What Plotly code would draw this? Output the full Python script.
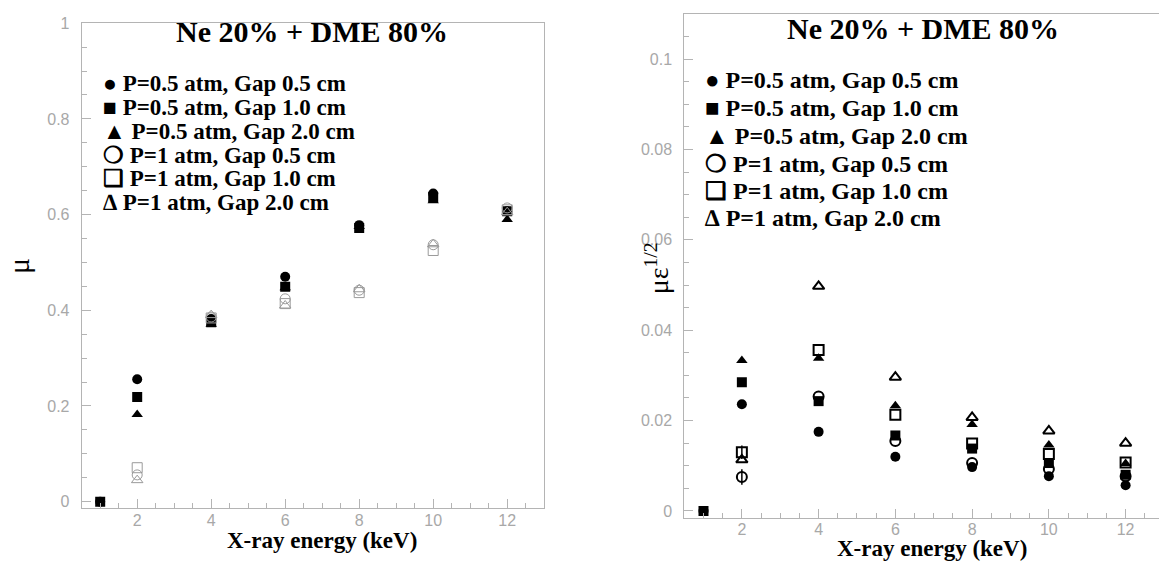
import plotly.graph_objects as go

W, H = 1159, 565

# ---------------- data ----------------
energy = [1, 2, 4, 6, 8, 10, 12]

# left panel: mu
mu_p05_g05 = [0.0, 0.256, 0.382, 0.470, 0.578, 0.644, 0.607]
mu_p05_g10 = [0.0, 0.219, 0.375, 0.449, 0.572, 0.637, 0.607]
mu_p05_g20 = [None, 0.182, 0.371, 0.447, 0.575, 0.629, 0.590]
mu_p1_g05 = [None, 0.056, 0.386, 0.424, 0.442, 0.537, 0.614]
mu_p1_g10 = [None, 0.071, 0.384, 0.414, 0.437, 0.525, 0.610]
mu_p1_g20 = [None, 0.045, 0.390, 0.410, 0.444, 0.538, 0.605]

# right panel: mu * eps^(1/2)
me_p05_g05 = [0.0, 0.0236, 0.0175, 0.0120, 0.0097, 0.0077, 0.0057]
me_p05_g10 = [0.0, 0.0285, 0.0243, 0.0167, 0.0138, 0.0106, 0.0080]
me_p05_g20 = [None, 0.0333, 0.0338, 0.0233, 0.0191, 0.0146, 0.0105]
me_p1_g05 = [None, 0.0075, 0.0253, 0.0155, 0.0106, 0.0093, 0.0077]
me_p1_g10 = [None, 0.0130, 0.0356, 0.0213, 0.0149, 0.0126, 0.0107]
me_p1_g20 = [None, 0.0113, 0.0497, 0.0296, 0.0207, 0.0177, 0.0150]
err_p1_g05 = [0, 0.0017, 0, 0, 0, 0, 0]
err_p1_g10 = [0, 0.0015, 0, 0, 0, 0, 0]

series_labels = ["P=0.5 atm, Gap 0.5 cm", "P=0.5 atm, Gap 1.0 cm", "P=0.5 atm, Gap 2.0 cm",
                 "P=1 atm, Gap 0.5 cm", "P=1 atm, Gap 1.0 cm", "P=1 atm, Gap 2.0 cm"]
legend_glyphs = ["●", "■", "▲", "❍", "❑", "∆"]
panel_title = "Ne 20% + DME 80%"
x_title = "X-ray energy (keV)"

left_ytick_vals = [0, 0.2, 0.4, 0.6, 0.8, 1.0]
left_ytick_text = ["0", "0.2", "0.4", "0.6", "0.8", "1"]
right_ytick_vals = [0, 0.02, 0.04, 0.06, 0.08, 0.1]
right_ytick_text = ["0", "0.02", "0.04", "0.06", "0.08", "0.1"]
xtick_vals = [2, 4, 6, 8, 10, 12]

# ---------------- figure ----------------
SERIF = "Liberation Serif, Times New Roman, serif"


def px(x):
    return x / W


def py(y):
    return 1 - y / H


fig = go.Figure()

symbols_filled = ["circle", "square", "triangle-up"]
symbols_open = ["circle-open", "square-open", "triangle-up-open"]

left_filled = [mu_p05_g05, mu_p05_g10, mu_p05_g20]
left_open = [mu_p1_g05, mu_p1_g10, mu_p1_g20]
right_filled = [me_p05_g05, me_p05_g10, me_p05_g20]
right_open = [me_p1_g05, me_p1_g10, me_p1_g20]
right_open_err = [err_p1_g05, err_p1_g10, None]

for i, ys in enumerate(left_filled):
    fig.add_trace(go.Scatter(x=energy, y=ys, mode="markers", name=series_labels[i],
                             marker=dict(symbol=symbols_filled[i], size=10, color="black"),
                             xaxis="x", yaxis="y", showlegend=False))
for i, ys in enumerate(left_open):
    fig.add_trace(go.Scatter(x=energy, y=ys, mode="markers", name=series_labels[i + 3],
                             marker=dict(symbol=symbols_open[i], size=10, color="#9a9a9a",
                                         line=dict(width=1, color="#9a9a9a")),
                             xaxis="x", yaxis="y", showlegend=False))
for i, ys in enumerate(right_filled):
    fig.add_trace(go.Scatter(x=energy, y=ys, mode="markers", name=series_labels[i],
                             marker=dict(symbol=symbols_filled[i], size=10, color="black"),
                             xaxis="x2", yaxis="y2", showlegend=False))
for i, ys in enumerate(right_open):
    err = right_open_err[i]
    fig.add_trace(go.Scatter(x=energy, y=ys, mode="markers", name=series_labels[i + 3],
                             marker=dict(symbol=symbols_open[i], size=10, color="black",
                                         line=dict(width=2, color="black")),
                             error_y=(dict(type="data", array=err, visible=True, width=0,
                                           thickness=1.5, color="black") if err else None),
                             xaxis="x2", yaxis="y2", showlegend=False))

tickfont = dict(family="Liberation Sans, Arial, sans-serif", size=16, color="#a8a8a8")
axcol = "#b4b4b4"

common_x = dict(showgrid=False, zeroline=False, showline=True, linecolor=axcol, linewidth=1,
                mirror=True, ticks="inside", ticklen=9, tickcolor=axcol, tickfont=tickfont,
                tickvals=xtick_vals, ticklabelstandoff=-3,
                minor=dict(ticks="inside", ticklen=5, dtick=0.5, tick0=0, tickcolor=axcol))

fig.update_layout(
    width=W, height=H, margin=dict(l=0, r=0, t=0, b=0),
    paper_bgcolor="white", plot_bgcolor="white", showlegend=False,
    xaxis=dict(common_x, domain=[px(81.7), px(544.2)], range=[0.5, 13.0], anchor="y"),
    yaxis=dict(domain=[py(509.5), py(15.5)], range=[-0.0142, 1.0], anchor="x",
               showgrid=False, zeroline=False, showline=True, linecolor=axcol, linewidth=1,
               mirror=True, ticks="inside", ticklen=9, tickcolor=axcol, tickfont=tickfont,
               tickvals=left_ytick_vals, ticktext=left_ytick_text, ticklabelstandoff=8,
               minor=dict(ticks="inside", ticklen=5, dtick=0.05, tick0=0, tickcolor=axcol),
               title=dict(text="μ", font=dict(family=SERIF, size=30, color="black"),
                          standoff=8)),
    xaxis2=dict(common_x, domain=[px(684.3), 1.0], range=[0.5, 12.87], anchor="y2"),
    yaxis2=dict(domain=[py(518.7), py(6.5)], range=[-0.00146, 0.1099], anchor="x2",
                showgrid=False, zeroline=False, showline=True, linecolor=axcol, linewidth=1,
                mirror=False, ticks="inside", ticklen=9, tickcolor=axcol, tickfont=tickfont,
                tickvals=right_ytick_vals, ticktext=right_ytick_text, ticklabelstandoff=8,
                minor=dict(ticks="inside", ticklen=5, dtick=0.005, tick0=0, tickcolor=axcol)),
)

annotations = []
# panel titles
for cx, cy in [(311.7, 23.5), (922.5, 20.5)]:
    annotations.append(dict(xref="paper", yref="paper", x=px(cx), y=py(cy), xanchor="center",
                            yanchor="middle", showarrow=False, text="<b>" + panel_title + "</b>",
                            font=dict(family=SERIF, size=30, color="black")))
# x-axis titles
for cx, cy in [(322.0, 542.0), (932.0, 550.5)]:
    annotations.append(dict(xref="paper", yref="paper", x=px(cx), y=py(cy), xanchor="center",
                            yanchor="middle", showarrow=False, text="<b>" + x_title + "</b>",
                            font=dict(family=SERIF, size=23, color="black")))
# legends
left_rows = [77.0, 101.2, 125.5, 149.7, 174.0, 198.3]
right_rows = [73.0, 102.0, 130.5, 158.5, 186.5, 214.0]
for rows, x0, fs in [(left_rows, 101.0, 23), (right_rows, 702.5, 24)]:
    for k, yy in enumerate(rows):
        annotations.append(dict(xref="paper", yref="paper", x=px(x0), y=py(yy), xanchor="left",
                                yanchor="middle", showarrow=False,
                                text="<b>" + legend_glyphs[k] + " " + series_labels[k] + "</b>",
                                font=dict(family=SERIF, size=fs, color="black")))
# right y-axis title
annotations.append(dict(xref="paper", yref="paper", x=px(657), y=py(265), xanchor="center",
                        yanchor="middle", showarrow=False, textangle=-90,
                        text="με<sup>1/2</sup>",
                        font=dict(family=SERIF, size=28, color="black")))
fig.update_layout(annotations=annotations)

fig.write_html("out.html")
